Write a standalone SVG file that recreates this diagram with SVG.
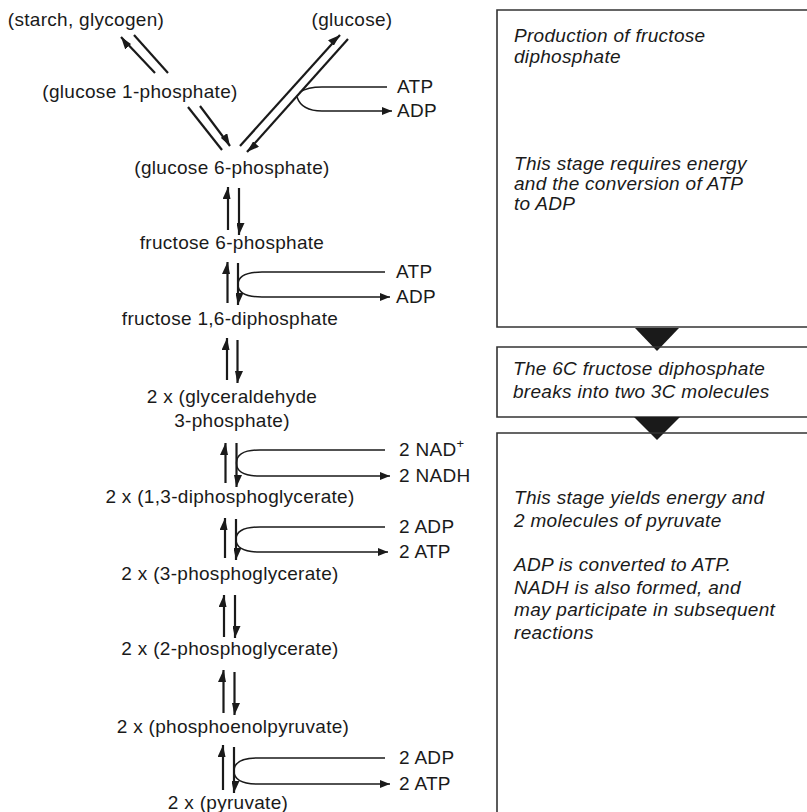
<svg xmlns="http://www.w3.org/2000/svg" width="807" height="812" viewBox="0 0 807 812">
<style>
text{font-family:"Liberation Sans",Arial,sans-serif;font-size:19px;letter-spacing:0.3px;fill:#1a1a1a}
.c{text-anchor:middle}
.i{font-style:italic}
.ln{fill:none;stroke:#1a1a1a;stroke-width:2.2}
.br{fill:none;stroke:#1a1a1a;stroke-width:1.5}
.box{fill:none;stroke:#333;stroke-width:1.6}
</style>
<defs>
<marker id="h" viewBox="0 0 12 8" refX="12" refY="5.5" markerWidth="12" markerHeight="8" markerUnits="userSpaceOnUse" orient="auto"><path d="M0,0 L12,5.5 L0,8 Z" fill="#1a1a1a"/></marker>
<marker id="ha" viewBox="0 0 10 8" refX="10" refY="4" markerWidth="10" markerHeight="8" markerUnits="userSpaceOnUse" orient="auto"><path d="M0,0 L10,4 L0,8 Z" fill="#1a1a1a"/></marker>
</defs>

<g id="starch"><text class="c" x="86" y="26">(starch, glycogen)</text></g>
<g id="glucose"><text class="c" x="352" y="26">(glucose)</text></g>
<g id="g1p"><text class="c" x="140" y="98">(glucose 1-phosphate)</text></g>
<g id="g6p"><text class="c" x="232" y="174">(glucose 6-phosphate)</text></g>
<g id="f6p"><text class="c" x="232" y="249">fructose 6-phosphate</text></g>
<g id="f16dp"><text class="c" x="230" y="325">fructose 1,6-diphosphate</text></g>
<g id="g3p"><text class="c" x="232" y="403">2 x (glyceraldehyde</text><text class="c" x="232" y="427">3-phosphate)</text></g>
<g id="dpg13"><text class="c" x="230" y="503">2 x (1,3-diphosphoglycerate)</text></g>
<g id="pg3"><text class="c" x="230" y="580">2 x (3-phosphoglycerate)</text></g>
<g id="pg2"><text class="c" x="230" y="655">2 x (2-phosphoglycerate)</text></g>
<g id="pep"><text class="c" x="233" y="733">2 x (phosphoenolpyruvate)</text></g>
<g id="pyr"><text class="c" x="228" y="809">2 x (pyruvate)</text></g>

<g id="cofactors">
<text x="397" y="93">ATP</text><text x="397" y="117">ADP</text>
<text x="396" y="278">ATP</text><text x="396" y="303">ADP</text>
<text x="399" y="456">2 NAD<tspan dy="-8" font-size="13">+</tspan></text><text x="399" y="482">2 NADH</text>
<text x="399" y="533">2 ADP</text><text x="399" y="558">2 ATP</text>
<text x="399" y="764">2 ADP</text><text x="399" y="790">2 ATP</text>
</g>

<g id="connectors">
<line class="ln" x1="155" y1="73" x2="121" y2="37" marker-end="url(#h)"/>
<line class="ln" x1="134" y1="35" x2="168" y2="73"/>
<line class="ln" x1="188" y1="107" x2="222" y2="150"/>
<line class="ln" x1="200" y1="106" x2="230" y2="146" marker-end="url(#h)"/>
<line class="ln" x1="240" y1="146" x2="340" y2="35" marker-end="url(#h)"/>
<line class="ln" x1="348" y1="39" x2="247" y2="152" marker-end="url(#h)"/>
<path class="br" d="M300,92 C306,88 312,87 322,87 L387,87"/>
<path class="br" d="M297,97 C300,106 308,111 322,111 L392,111" marker-end="url(#ha)"/>

<line class="ln" x1="228" y1="230" x2="228" y2="187" marker-end="url(#h)"/>
<line class="ln" x1="239" y1="188" x2="239" y2="235" marker-end="url(#h)"/>

<line class="ln" x1="227.5" y1="303" x2="227.5" y2="262" marker-end="url(#h)"/>
<line class="ln" x1="238" y1="263" x2="238" y2="305" marker-end="url(#h)"/>
<path class="br" d="M238,284.5 C238,277 244,272 262,272 L385,272"/>
<path class="br" d="M238,284.5 C238,292 244,297 262,297 L390,297" marker-end="url(#ha)"/>

<line class="ln" x1="227" y1="380" x2="227" y2="338" marker-end="url(#h)"/>
<line class="ln" x1="237.5" y1="340" x2="237.5" y2="383" marker-end="url(#h)"/>

<line class="ln" x1="225.5" y1="483" x2="225.5" y2="443" marker-end="url(#h)"/>
<line class="ln" x1="236.5" y1="443" x2="236.5" y2="487" marker-end="url(#h)"/>
<path class="br" d="M236.5,463 C236.5,455 242,450 260,450 L385,450"/>
<path class="br" d="M236.5,463 C236.5,471 242,476 260,476 L390,476" marker-end="url(#ha)"/>

<line class="ln" x1="225" y1="558" x2="225" y2="518" marker-end="url(#h)"/>
<line class="ln" x1="236" y1="519" x2="236" y2="560" marker-end="url(#h)"/>
<path class="br" d="M236,539.5 C236,532 242,527 260,527 L385,527"/>
<path class="br" d="M236,539.5 C236,547 242,552 260,552 L388,552" marker-end="url(#ha)"/>

<line class="ln" x1="224" y1="637" x2="224" y2="595" marker-end="url(#h)"/>
<line class="ln" x1="235" y1="595" x2="235" y2="638" marker-end="url(#h)"/>

<line class="ln" x1="223.5" y1="713" x2="223.5" y2="670" marker-end="url(#h)"/>
<line class="ln" x1="234.5" y1="672" x2="234.5" y2="715" marker-end="url(#h)"/>

<line class="ln" x1="223" y1="790" x2="223" y2="745" marker-end="url(#h)"/>
<line class="ln" x1="234" y1="747" x2="234" y2="793" marker-end="url(#h)"/>
<path class="br" d="M234,771 C234,763 240,758 258,758 L385,758"/>
<path class="br" d="M234,771 C234,779 240,784 258,784 L390,784" marker-end="url(#ha)"/>
</g>

<g id="stage1">
<path class="box" d="M807,10 H497 V327 H807"/>
<text class="i" x="514" y="42">Production of fructose</text>
<text class="i" x="514" y="63">diphosphate</text>
<text class="i" x="514" y="170">This stage requires energy</text>
<text class="i" x="514" y="190">and the conversion of ATP</text>
<text class="i" x="514" y="210">to ADP</text>
</g>
<g id="arrow1"><polygon points="635,328 679,328 657,351" fill="#1a1a1a"/></g>
<g id="stage2">
<path class="box" d="M807,347 H497 V417 H807"/>
<text class="i" x="513" y="375">The 6C fructose diphosphate</text>
<text class="i" x="513" y="398">breaks into two 3C molecules</text>
</g>
<g id="arrow2"><polygon points="634,417 680,417 657,440" fill="#1a1a1a"/></g>
<g id="stage3">
<path class="box" d="M807,433 H497 V812"/>
<text class="i" x="514" y="504">This stage yields energy and</text>
<text class="i" x="514" y="527">2 molecules of pyruvate</text>
<text class="i" x="514" y="571">ADP is converted to ATP.</text>
<text class="i" x="514" y="594">NADH is also formed, and</text>
<text class="i" x="514" y="616">may participate in subsequent</text>
<text class="i" x="514" y="639">reactions</text>
</g>
</svg>
